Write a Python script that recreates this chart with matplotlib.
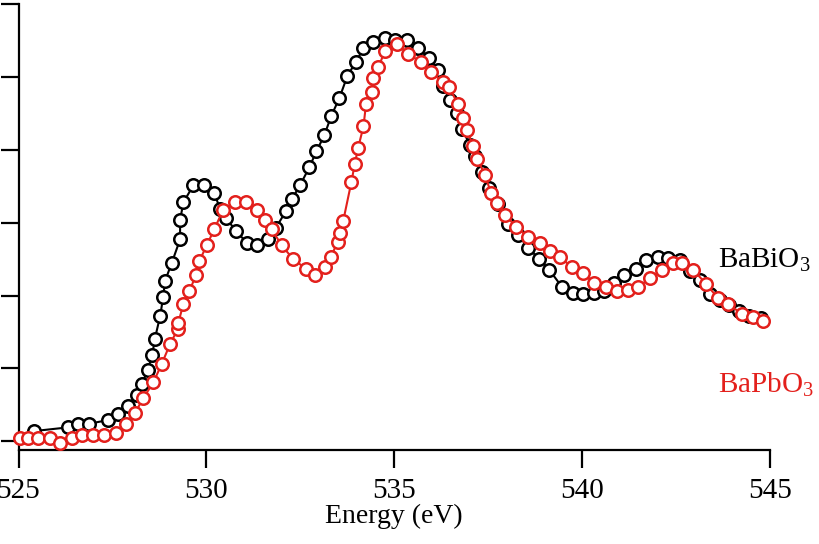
import matplotlib
matplotlib.use('Agg')
import matplotlib.pyplot as plt

# BaBiO3 spectrum (black)
bi_energy = [525.42, 526.31, 526.59, 526.88, 527.37, 527.64, 527.91, 528.15, 528.28, 528.44,
             528.56, 528.63, 528.77, 528.85, 528.90, 529.08, 529.30, 529.30, 529.39, 529.65,
             529.94, 530.21, 530.36, 530.52, 530.79, 531.09, 531.36, 531.63, 531.85, 532.12,
             532.27, 532.49, 532.74, 532.93, 533.14, 533.32, 533.54, 533.75, 533.97, 534.18,
             534.44, 534.75, 535.02, 535.33, 535.64, 535.93, 536.17, 536.29, 536.48, 536.66,
             536.80, 537.02, 537.15, 537.33, 537.53, 537.77, 538.04, 538.30, 538.57, 538.86,
             539.13, 539.46, 539.75, 540.02, 540.32, 540.59, 540.86, 541.12, 541.43, 541.70,
             542.03, 542.29, 542.60, 542.87, 543.14, 543.40, 543.67, 543.92, 544.18, 544.45,
             544.76]
bi_intensity = [0.14, 0.19, 0.24, 0.24, 0.29, 0.37, 0.49, 0.64, 0.78, 0.98,
                1.19, 1.41, 1.72, 1.98, 2.20, 2.45, 2.77, 3.04, 3.28, 3.51,
                3.51, 3.41, 3.19, 3.07, 2.88, 2.72, 2.69, 2.77, 2.93, 3.16,
                3.32, 3.51, 3.76, 3.98, 4.20, 4.46, 4.71, 5.01, 5.20, 5.39,
                5.48, 5.54, 5.51, 5.50, 5.39, 5.26, 5.10, 4.88, 4.68, 4.50,
                4.29, 4.06, 3.92, 3.70, 3.47, 3.25, 2.98, 2.83, 2.65, 2.50,
                2.35, 2.12, 2.04, 2.02, 2.04, 2.06, 2.17, 2.28, 2.37, 2.49,
                2.53, 2.51, 2.49, 2.33, 2.21, 2.02, 1.94, 1.87, 1.79, 1.72,
                1.69]

# BaPbO3 spectrum (red)
pb_energy = [525.04, 525.26, 525.53, 525.84, 526.10, 526.42, 526.68, 526.99, 527.28, 527.59,
             527.86, 528.10, 528.32, 528.59, 528.81, 529.03, 529.24, 529.25, 529.39, 529.55,
             529.72, 529.81, 530.01, 530.21, 530.45, 530.76, 531.05, 531.34, 531.57, 531.74,
             532.00, 532.31, 532.64, 532.90, 533.16, 533.32, 533.49, 533.56, 533.64, 533.86,
             533.95, 534.04, 534.18, 534.25, 534.40, 534.44, 534.58, 534.75, 535.07, 535.37,
             535.71, 535.98, 536.29, 536.46, 536.69, 536.84, 536.94, 537.10, 537.21, 537.42,
             537.57, 537.74, 537.96, 538.25, 538.57, 538.88, 539.15, 539.41, 539.72, 540.02,
             540.32, 540.64, 540.92, 541.21, 541.50, 541.81, 542.12, 542.41, 542.65, 542.96,
             543.30, 543.62, 543.89, 544.25, 544.54, 544.82]
pb_intensity = [0.05, 0.04, 0.04, 0.04, -0.02, 0.04, 0.08, 0.08, 0.08, 0.12,
                0.24, 0.39, 0.59, 0.81, 1.06, 1.33, 1.54, 1.62, 1.89, 2.06,
                2.28, 2.47, 2.69, 2.91, 3.18, 3.28, 3.28, 3.18, 3.03, 2.91,
                2.69, 2.50, 2.37, 2.28, 2.39, 2.53, 2.74, 2.86, 3.02, 3.56,
                3.81, 4.03, 4.32, 4.63, 4.79, 4.98, 5.13, 5.36, 5.45, 5.32,
                5.20, 5.07, 4.93, 4.86, 4.63, 4.43, 4.27, 4.05, 3.87, 3.65,
                3.41, 3.27, 3.10, 2.94, 2.80, 2.72, 2.61, 2.53, 2.39, 2.31,
                2.17, 2.12, 2.06, 2.08, 2.12, 2.24, 2.35, 2.45, 2.44, 2.35,
                2.16, 1.96, 1.88, 1.75, 1.71, 1.65]

x_ticks = [525, 530, 535, 540, 545]
y_ticks = [0, 1, 2, 3, 4, 5, 6]

red = '#e3201c'

plt.rcParams['font.family'] = 'Liberation Serif'
plt.rcParams['mathtext.fontset'] = 'custom'
plt.rcParams['mathtext.rm'] = 'Liberation Serif'

fig = plt.figure(figsize=(8.2, 5.44), dpi=100)
ax = fig.add_axes([0.0226, 0.1728, 0.9164, 0.8198])

ax.plot(bi_energy, bi_intensity, color='black', lw=1.5, marker='o', ms=9,
        mfc='white', mec='black', mew=1.8, clip_on=False, zorder=3)
ax.plot(pb_energy, pb_intensity, color=red, lw=1.5, marker='o', ms=9,
        mfc='white', mec=red, mew=1.8, clip_on=False, zorder=4)

ax.set_xlim(525, 545)
ax.set_ylim(-0.12, 6)
ax.set_xticks(x_ticks)
ax.set_yticks(y_ticks)
ax.set_yticklabels([])

for side in ['top', 'right']:
    ax.spines[side].set_visible(False)
for side in ['left', 'bottom']:
    ax.spines[side].set_linewidth(1.6)

ax.tick_params(axis='both', direction='out', length=13, width=1.6, labelsize=21)
ax.tick_params(axis='x', pad=7)
ax.set_xlabel('Energy (eV)', fontsize=20, labelpad=0)

ax.text(543.62, 2.49, 'BaBiO$_3$', fontsize=21, color='black',
        ha='left', va='center', clip_on=False)
ax.text(543.62, 0.78, 'BaPbO$_3$', fontsize=21, color=red,
        ha='left', va='center', clip_on=False)

fig.savefig('out.png', dpi=100)
